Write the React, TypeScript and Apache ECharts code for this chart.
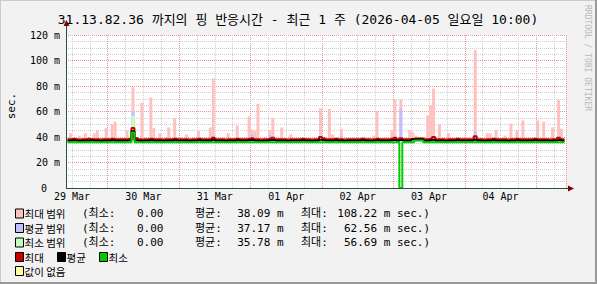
import React, { useEffect, useRef } from 'react';
import * as echarts from 'echarts';

// ---- data ----
const titleText = '31.13.82.36 까지의 핑 반응시간 - 최근 1 주 (2026-04-05 일요일 10:00)';
const startUTC = Date.UTC(2026, 2, 29, 10); // first hour shown: 29 Mar 10:00
const hourCount = 168;
const dayLabels = ['29 Mar', '30 Mar', '31 Mar', '01 Apr', '02 Apr', '03 Apr', '04 Apr'];
const yMax = 120;
const yStep = 20;

// hourly max / avg / min lines (ms)
const maxLine = [
  38.3, 38.3, 38.6, 38.3, 38.0, 38.3, 38.3, 38.6, 38.3, 38.3, 38.3, 38.0, 38.3, 38.3, 38.3, 38.6, 38.3, 38.3, 38.3, 38.3, 38.3, 38.6, 47.0, 39.2,
  38.3, 38.0, 38.3, 38.3, 38.6, 38.3, 38.3, 38.3, 38.0, 38.3, 38.3, 38.3, 38.6, 38.3, 38.3, 38.3, 38.3, 38.0, 38.3, 38.3, 38.6, 38.3, 38.3, 38.3,
  38.3, 39.5, 38.3, 38.3, 38.3, 38.0, 38.3, 38.3, 38.3, 38.6, 38.3, 38.3, 38.3, 38.6, 39.0, 38.3, 38.3, 38.0, 38.3, 38.3, 38.6, 39.5, 38.3, 38.3,
  38.3, 38.3, 38.0, 38.3, 38.3, 38.3, 38.3, 38.6, 38.3, 38.3, 38.0, 38.3, 38.3, 40.0, 39.0, 38.3, 38.3, 38.3, 38.6, 38.3, 38.3, 38.0, 38.3, 38.3,
  38.3, 38.3, 38.3, 38.6, 38.3, 38.3, 38.0, 38.3, 38.6, 38.3, 38.3, 38.3, 38.3, 38.6, 39.5, 38.3, 39.0, 38.3, 38.3, 38.3, 38.3, 38.8, 38.8, 38.8,
  38.3, 38.3, 38.6, 40.0, 38.3, 38.3, 38.3, 38.0, 38.3, 38.3, 38.3, 38.6, 38.3, 38.3, 38.3, 38.3, 38.3, 40.5, 38.3, 38.3, 38.0, 38.3, 38.3, 38.6,
  38.3, 38.3, 38.3, 38.3, 38.0, 38.3, 38.3, 38.6, 38.3, 38.3, 38.3, 38.3, 38.3, 38.6, 38.3, 38.3, 38.3, 38.3, 38.0, 38.3, 38.3, 39.5, 38.3, 38.3,
];
const avgLine = [
  37.1, 37.1, 37.4, 37.1, 36.8, 37.1, 37.1, 37.1, 37.4, 37.1, 37.1, 36.8, 37.1, 37.1, 37.1, 37.4, 37.1, 37.1, 37.1, 37.1, 37.1, 37.4, 44.5, 37.4,
  37.1, 36.8, 37.1, 37.1, 37.4, 37.1, 37.1, 37.1, 36.8, 37.1, 37.1, 37.1, 37.4, 37.1, 37.1, 37.1, 37.1, 36.8, 37.1, 37.1, 37.4, 37.1, 37.1, 37.1,
  37.1, 37.8, 37.1, 37.1, 37.1, 36.8, 37.1, 37.1, 37.1, 37.4, 37.1, 37.1, 37.1, 37.4, 37.6, 37.1, 37.1, 36.8, 37.1, 37.1, 37.4, 37.6, 37.1, 37.1,
  37.1, 37.1, 36.8, 37.1, 37.1, 37.1, 37.1, 37.4, 37.1, 37.1, 36.8, 37.1, 37.1, 37.8, 37.4, 37.1, 37.1, 37.1, 37.4, 37.1, 37.1, 36.8, 37.1, 37.1,
  37.1, 37.1, 37.1, 37.4, 37.1, 37.1, 36.8, 37.1, 37.4, 37.1, 37.1, 37.1, 37.1, 37.4, 37.8, 37.1, 37.6, 37.1, 37.1, 37.1, 38.2, 38.2, 38.2, 38.2,
  37.1, 37.1, 37.4, 37.8, 37.1, 37.1, 37.1, 36.8, 37.1, 37.1, 37.1, 37.4, 37.1, 37.1, 37.1, 37.1, 37.1, 37.9, 37.1, 37.1, 36.8, 37.1, 37.1, 37.4,
  37.1, 37.1, 37.1, 37.1, 36.8, 37.1, 37.1, 37.4, 37.1, 37.1, 37.1, 37.1, 37.1, 37.4, 37.1, 37.1, 37.1, 37.1, 36.8, 37.1, 37.1, 37.6, 37.1, 37.1,
];
const minLine = [
  35.8, 35.8, 35.8, 35.8, 35.8, 35.8, 35.8, 35.8, 35.8, 35.8, 35.8, 35.8, 35.8, 35.8, 35.8, 35.8, 35.8, 35.8, 35.8, 35.8, 35.8, 35.8, 43.5, 35.8,
  35.8, 35.8, 35.8, 35.8, 35.8, 35.8, 35.8, 35.8, 35.8, 35.8, 35.8, 35.8, 35.8, 35.8, 35.8, 35.8, 35.8, 35.8, 35.8, 35.8, 35.8, 35.8, 35.8, 35.8,
  35.8, 35.8, 35.8, 35.8, 35.8, 35.8, 35.8, 35.8, 35.8, 35.8, 35.8, 35.8, 35.8, 35.8, 35.8, 35.8, 35.8, 35.8, 35.8, 35.8, 35.8, 35.8, 35.8, 35.8,
  35.8, 35.8, 35.8, 35.8, 35.8, 35.8, 35.8, 35.8, 35.8, 35.8, 35.8, 35.8, 35.8, 35.8, 35.8, 35.8, 35.8, 35.8, 35.8, 35.8, 35.8, 35.8, 35.8, 35.8,
  35.8, 35.8, 35.8, 35.8, 35.8, 35.8, 35.8, 35.8, 35.8, 35.8, 35.8, 35.8, 35.8, 35.8, 35.8, 35.8, 0.0, 35.8, 35.8, 35.8, 35.8, 37.3, 37.3, 37.3,
  35.8, 35.8, 35.8, 35.8, 35.8, 35.8, 35.8, 35.8, 35.8, 35.8, 35.8, 35.8, 35.8, 35.8, 35.8, 35.8, 35.8, 35.8, 35.8, 35.8, 35.8, 35.8, 35.8, 35.8,
  35.8, 35.8, 35.8, 35.8, 35.8, 35.8, 35.8, 35.8, 35.8, 35.8, 35.8, 35.8, 35.8, 35.8, 35.8, 35.8, 35.8, 35.8, 35.8, 35.8, 35.8, 35.8, 35.8, 35.8,
];

// range peaks: [hour index, top of range]
const maxPeaks: [number, number][] = [
  [1, 43], [4, 41], [6, 43], [9, 43], [10, 45], [13, 47], [15, 50], [16, 52], [20, 45], [22, 79],
  [25, 67], [28, 71], [29, 47], [31, 43], [34, 47.5], [36, 55], [40, 42], [44, 45], [48, 47.5], [49, 86],
  [54, 43], [57, 49], [61, 56], [62, 46], [63, 45], [64, 66], [68, 45.5], [69, 55], [72, 47.5], [75, 42],
  [85, 62.5], [88, 62], [89, 42], [92, 46.5], [100, 40], [103, 41], [104, 60.5], [109, 45.5], [110, 69], [112, 69.5],
  [115, 45.5], [116, 44], [117, 41], [121, 57], [122, 65], [123, 78], [125, 50], [128, 43], [135, 40], [137, 108.2],
  [141, 43], [142, 43], [144, 45.5], [147, 41], [149, 50.5], [151, 45], [153, 53], [158, 53], [160, 52], [163, 47.5],
  [165, 69], [166, 46.5],
];
const avgPeaks: [number, number][] = [
  [22, 60], [49, 40.5], [62, 42], [68, 41.5], [92, 41], [112, 62.5], [137, 44], [144, 40], [166, 40],
];
const minPeaks: [number, number][] = [[22, 56.7]];

// legend texts
const rangeNames = ['최대 범위', '평균 범위', '최소 범위'];
const statMin = ['0.00', '0.00', '0.00'];
const statAvg = ['38.09 m', '37.17 m', '35.78 m'];
const statMax = ['108.22 m', '62.56 m', '56.69 m'];
const lineNames = ['최대', '평균', '최소'];
const noValueName = '값이 없음';

// ---- styling ----
const MONO = '"DejaVu Sans Mono", "Noto Sans CJK KR", monospace';
const KR = '"Noto Sans CJK KR", "DejaVu Sans", sans-serif';
const rangeColors = ['#FFC0C0', '#C0C0FF', '#C0FFC0'];
const lineColors = ['#CC0000', '#000000', '#00CC00'];
const noValueColor = '#FFFFA0';
const BG = '#F2F2F2';
const MINOR_GRID = '#CFCFCF';
const MAJOR_GRID = '#E89A9A';
const AXIS = '#2C4D43';
const ARROW = '#7F0000';

const categories: string[] = [];
for (let i = 0; i < hourCount; i++) {
  const d = new Date(startUTC + i * 3600000);
  const mm = String(d.getUTCMonth() + 1).padStart(2, '0');
  const dd = String(d.getUTCDate()).padStart(2, '0');
  const hh = String(d.getUTCHours()).padStart(2, '0');
  categories.push(`${mm}-${dd} ${hh}:00`);
}
const hourOf = (i: number) => (new Date(startUTC + i * 3600000)).getUTCHours();
const labelMap = new Map<number, string>();
{
  let k = 0;
  for (let i = 0; i < hourCount; i++) {
    if (hourOf(i) === 12 && k < dayLabels.length) labelMap.set(i, dayLabels[k++]);
  }
}

function rangeSeries(name: string, line: number[], peaks: [number, number][], color: string) {
  const pm = new Map<number, number>(peaks);
  const top = line.map((v, i) => (pm.has(i) ? (pm.get(i) as number) - v : '-'));
  const base = line.map((v, i) => (pm.has(i) ? v : '-'));
  return [
    {
      type: 'bar', name: name + '_base', stack: name, data: base, silent: true,
      itemStyle: { color: 'rgba(0,0,0,0)' }, barGap: '-100%', barCategoryGap: '0%',
    },
    {
      type: 'bar', name, stack: name, data: top, silent: true,
      itemStyle: { color }, barGap: '-100%', barCategoryGap: '0%',
    },
  ];
}

function lineSeries(name: string, data: number[], color: string) {
  return {
    type: 'line', name, data, step: 'middle', symbol: 'none', showSymbol: false, silent: true,
    lineStyle: { color, width: 2 },
  };
}

function txt(text: string, x: number, y: number, opts: any = {}) {
  const align = opts.align || 'left';
  return {
    type: 'text', x, y, rotation: opts.rotation || 0, z: 200, silent: true,
    style: {
      text, fill: opts.fill || '#000', fontSize: opts.size || 11, fontFamily: opts.family || MONO,
      align, textAlign: align, verticalAlign: 'middle', textVerticalAlign: 'middle',
    },
  };
}

function box(x: number, y: number, color: string) {
  return {
    type: 'rect', z: 200, silent: true,
    shape: { x, y, width: 8, height: 9 },
    style: { fill: color, stroke: '#000', lineWidth: 1 },
  };
}

export default function App() {
  const ref = useRef<HTMLDivElement>(null);
  useEffect(() => {
    const chart = echarts.init(ref.current as HTMLDivElement, null, { renderer: 'svg' });

    const rowY = [213.5, 228, 242.5, 257, 271];
    const graphics: any[] = [];
    // frame
    graphics.push({ type: 'line', z: 1, silent: true, shape: { x1: 0.5, y1: 0, x2: 0.5, y2: 284 }, style: { stroke: '#CBCBCB', lineWidth: 1 } });
    graphics.push({ type: 'line', z: 1, silent: true, shape: { x1: 0, y1: 0.5, x2: 597, y2: 0.5 }, style: { stroke: '#CBCBCB', lineWidth: 1 } });
    graphics.push({ type: 'line', z: 1, silent: true, shape: { x1: 596, y1: 0, x2: 596, y2: 284 }, style: { stroke: '#999999', lineWidth: 2 } });
    graphics.push({ type: 'line', z: 1, silent: true, shape: { x1: 0, y1: 283, x2: 597, y2: 283 }, style: { stroke: '#999999', lineWidth: 2 } });
    // title and side texts
    graphics.push(txt(titleText, 298, 19, { size: 13, align: 'center' }));
    graphics.push(txt('sec.', 11, 106, { size: 11, align: 'center', rotation: Math.PI / 2 }));
    graphics.push(txt('RRDTOOL / TOBI OETIKER', 587, 5, { size: 8, fill: '#B8B8B8', rotation: -Math.PI / 2 }));
    // axes with arrows
    graphics.push({ type: 'line', z: 150, silent: true, shape: { x1: 66.5, y1: 188.5, x2: 66.5, y2: 25 }, style: { stroke: AXIS, lineWidth: 1 } });
    graphics.push({ type: 'polygon', z: 151, silent: true, shape: { points: [[63.5, 26], [69.5, 26], [66.5, 20]] }, style: { fill: ARROW } });
    graphics.push({ type: 'line', z: 150, silent: true, shape: { x1: 66, y1: 188.5, x2: 569, y2: 188.5 }, style: { stroke: AXIS, lineWidth: 1 } });
    graphics.push({ type: 'polygon', z: 151, silent: true, shape: { points: [[568, 185.5], [568, 191.5], [574, 188.5]] }, style: { fill: ARROW } });
    // legend: ranges
    for (let i = 0; i < 3; i++) {
      const y = rowY[i];
      graphics.push(box(15.5, y - 4.5, rangeColors[i]));
      graphics.push(txt(rangeNames[i], 24.5, y, { family: KR, size: 10.5 }));
      graphics.push(txt('(최소:', 82, y));
      graphics.push(txt(statMin[i], 163.5, y, { align: 'right' }));
      graphics.push(txt('평균:', 195, y));
      graphics.push(txt(statAvg[i], 283.5, y, { align: 'right' }));
      graphics.push(txt('최대:', 301, y));
      graphics.push(txt(statMax[i] + ' sec.)', 430, y, { align: 'right' }));
    }
    // legend: lines
    const lineBoxX = [15.5, 57.5, 99.5];
    for (let i = 0; i < 3; i++) {
      graphics.push(box(lineBoxX[i], rowY[3] - 4.5, lineColors[i]));
      graphics.push(txt(lineNames[i], lineBoxX[i] + 9, rowY[3], { family: KR, size: 10.5 }));
    }
    graphics.push(box(15.5, rowY[4] - 4.5, noValueColor));
    graphics.push(txt(noValueName, 24.5, rowY[4], { family: KR, size: 10.5 }));

    const option: any = {
      animation: false,
      backgroundColor: BG,
      tooltip: { show: false },
      grid: {
        left: 66, right: 31, top: 35, bottom: 96,
        show: true, backgroundColor: '#FFFFFF', borderWidth: 0,
      },
      xAxis: [
        {
          type: 'category', data: categories, boundaryGap: true, position: 'bottom',
          axisLine: { show: false }, axisTick: { show: false },
          axisLabel: {
            interval: (i: number) => labelMap.has(i),
            formatter: (_v: string, i: number) => labelMap.get(i) || '',
            fontFamily: MONO, fontSize: 10, color: '#000', margin: 3,
            padding: [0, 3, 0, 0],
          },
          splitLine: {
            show: true,
            interval: (i: number) => hourOf(i) % 6 === 0 && hourOf(i) !== 0,
            lineStyle: { color: MINOR_GRID, type: [1, 1], width: 1 },
          },
        },
        {
          type: 'category', data: categories, boundaryGap: true, position: 'bottom',
          axisLine: { show: false }, axisTick: { show: false }, axisLabel: { show: false },
          splitLine: {
            show: true,
            interval: (i: number) => hourOf(i) === 0,
            lineStyle: { color: MAJOR_GRID, type: [1, 1], width: 1 },
          },
        },
      ],
      yAxis: {
        type: 'value', min: 0, max: yMax, interval: yStep,
        axisLine: { show: false }, axisTick: { show: false },
        axisLabel: {
          formatter: (v: number) => (v === 0 ? '{z|0}' : `${v} m`),
          fontFamily: MONO, fontSize: 10, color: '#000', margin: 6,
          rich: { z: { fontFamily: MONO, fontSize: 10, color: '#000', padding: [0, 13, 0, 0] } },
        },
        splitLine: { show: true, lineStyle: { color: MAJOR_GRID, type: [1, 1], width: 1 } },
        minorTick: { show: false, splitNumber: 4 },
        minorSplitLine: { show: true, lineStyle: { color: MINOR_GRID, type: [1, 1], width: 1 } },
      },
      series: [
        ...rangeSeries('최대 범위', maxLine, maxPeaks, rangeColors[0]),
        ...rangeSeries('평균 범위', avgLine, avgPeaks, rangeColors[1]),
        ...rangeSeries('최소 범위', minLine, minPeaks, rangeColors[2]),
        lineSeries('최대', maxLine, lineColors[0]),
        lineSeries('평균', avgLine, lineColors[1]),
        lineSeries('최소', minLine, lineColors[2]),
      ],
      graphic: { elements: graphics },
    };
    chart.setOption(option);
    return () => chart.dispose();
  }, []);

  return (
    <div style={{ position: 'absolute', left: 0, top: 0, width: 597, height: 284 }}>
      <div ref={ref} style={{ width: 597, height: 284 }} />
    </div>
  );
}
